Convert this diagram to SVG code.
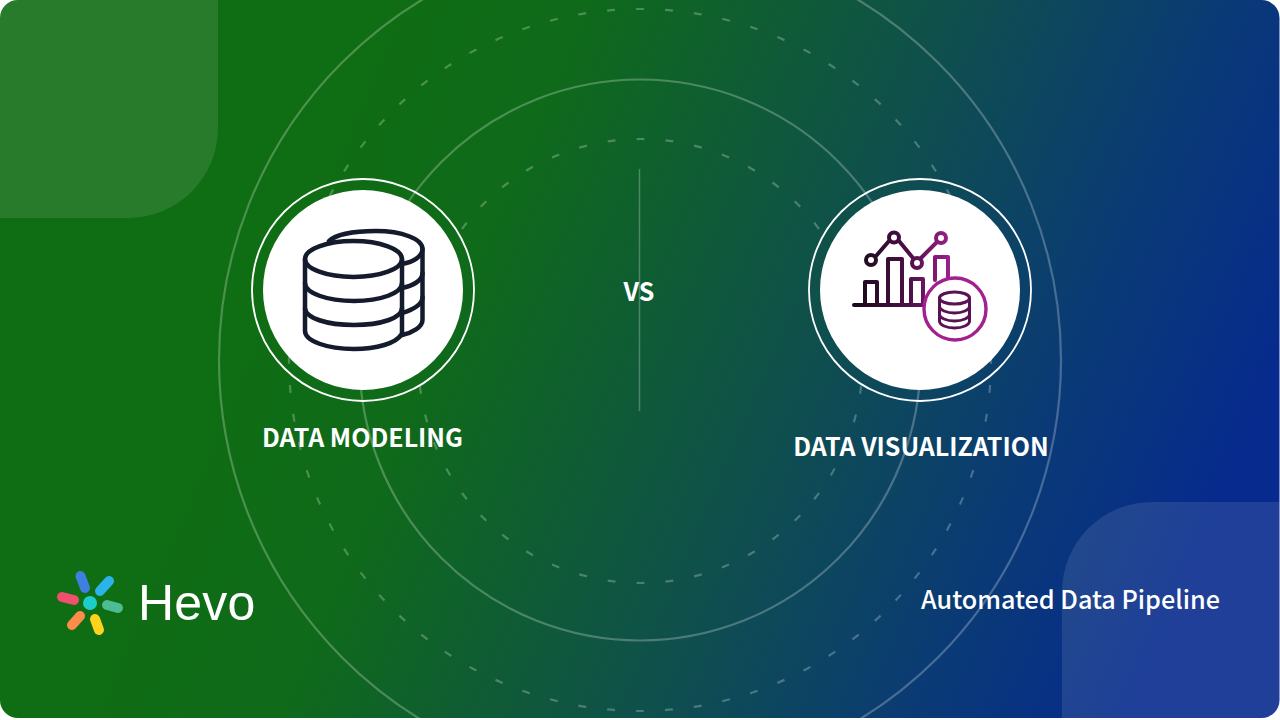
<svg xmlns="http://www.w3.org/2000/svg" width="1280" height="720" viewBox="0 0 1280 720">
<style>
.ring{fill:none;stroke:#fff}
.lbl{font-family:"Noto Sans CJK SC","Noto Sans",sans-serif;fill:#fff}
.big{font-size:25px;font-weight:700;text-anchor:middle}
.db{fill:none;stroke:#141b2d;stroke-width:4.500;stroke-linecap:round;stroke-linejoin:round}
.v{fill:none;stroke:url(#viz);stroke-width:4;stroke-linecap:round;stroke-linejoin:round}
</style>
<defs>
<linearGradient id="bg" gradientUnits="userSpaceOnUse" x1="300" y1="170" x2="1200" y2="560">
<stop offset="0" stop-color="#0f6d13"/><stop offset=".2" stop-color="#0f6a1a"/><stop offset=".55" stop-color="#0f4f4d"/><stop offset=".8" stop-color="#0a3a76"/><stop offset="1" stop-color="#062a8e"/>
</linearGradient>
<linearGradient id="viz" gradientUnits="userSpaceOnUse" x1="860" y1="280" x2="985" y2="280">
<stop offset="0" stop-color="#1c0a1c"/><stop offset=".4" stop-color="#4f1049"/><stop offset=".75" stop-color="#a3218f"/><stop offset="1" stop-color="#a3218f"/>
</linearGradient>
<clipPath id="card"><rect width="1279.500" height="718" rx="18"/></clipPath>
</defs>
<rect width="1280" height="720" fill="#fff"/>
<g clip-path="url(#card)">
<rect width="1280" height="720" fill="url(#bg)"/>
<path d="M0 0H218V128A90 90 0 0 1 128 218H0Z" fill="#fff" opacity=".1"/>
<path d="M1280 502H1152A90 90 0 0 0 1062 592V720H1280Z" fill="#fff" opacity=".1"/>
<g id="rings" opacity=".25">
<circle class="ring" cx="640" cy="360" r="421" stroke-width="2.200"/>
<circle class="ring" cx="640" cy="360" r="351" stroke-width="2.200" pathLength="76" stroke-dasharray=".27 .73" stroke-dashoffset=".135"/>
<circle class="ring" cx="640" cy="360" r="280.500" stroke-width="2.200"/>
<circle class="ring" cx="640.500" cy="361" r="222" stroke-width="2.200" pathLength="48" stroke-dasharray=".27 .73" stroke-dashoffset=".135"/>
<path class="ring" d="M639.500 169V411" stroke-width="1.500"/>
</g>
</g>
<g id="node-modeling">
<circle cx="363" cy="290" r="100" fill="#fff"/>
<circle class="ring" cx="363" cy="290" r="111" stroke-width="1.800"/>
<g class="db">
<ellipse cx="353.500" cy="259" rx="48.500" ry="18"/>
<path d="M305 259V331C305 341 327 349 354 349C377 349 396 343 401 335"/>
<path d="M305 283C305 293 327 301 354 301S402 293 402 283"/>
<path d="M305 308C305 318 327 325 354 325S402 318 402 308"/>
<path d="M402 259V335"/>
<path d="M329 241C335 235 352 231 376 231C402 231 422.500 239 422.500 249C422.500 256 414 262 402 264"/>
<path d="M422.500 249V320C422.500 327 412 333 402 335"/>
<path d="M402 288C412 286 422.500 281 422.500 273"/>
<path d="M402 313C412 310 422.500 305 422.500 297"/>
</g>
</g>
<g id="node-visualization">
<circle cx="920" cy="290" r="100" fill="#fff"/>
<circle class="ring" cx="920" cy="290" r="111" stroke-width="1.800"/>
<g class="v">
<path d="M854 305H925"/>
<path d="M865 304V282H877V304M888 304V259H902V304M911 304V279H923V304M935 280V257H948V278"/>
<path d="M876 256L889 241M899 241L913 258M921 258L936 243"/>
<circle cx="871" cy="260" r="5"/><circle cx="894" cy="237.500" r="5"/><circle cx="917" cy="263" r="5"/><circle cx="941" cy="238" r="5"/>
</g>
<circle cx="955" cy="309" r="31" fill="#fff" stroke="#a3218f" stroke-width="3.400"/>
<g class="v" style="stroke:#5a1254;stroke-width:3">
<ellipse cx="954.500" cy="298" rx="15" ry="6"/>
<path d="M939.500 298V321C939.500 325 946.500 328 954.500 328S969.500 325 969.500 321V298"/>
<path d="M939.500 306C939.500 310 946.500 313 954.500 313S969.500 310 969.500 306M939.500 314C939.500 318 946.500 321 954.500 321S969.500 318 969.500 314"/>
</g>
</g>
<text class="lbl" x="639" y="301" text-anchor="middle" font-size="25" font-weight="700">VS</text>
<text class="lbl big" x="362.500" y="447">DATA MODELING</text>
<text class="lbl big" x="921" y="456">DATA VISUALIZATION</text>
<text class="lbl" x="1070.500" y="609" text-anchor="middle" font-size="25.200" font-weight="500">Automated Data Pipeline</text>
<g id="logo">
<g stroke-width="10" stroke-linecap="round">
<path d="M80.500 576L85 588" stroke="#3f7fe0"/>
<path d="M109 581L100 591" stroke="#2bb3ea"/>
<path d="M62 597L74 600" stroke="#f0506e"/>
<path d="M107 605L118 608" stroke="#4dbb94"/>
<path d="M80 616L72 625" stroke="#fb8c4b"/>
<path d="M95 619L99 630" stroke="#ffd21e"/>
</g>
<circle cx="90" cy="603" r="7" fill="#1fcdc8"/>
<text x="138" y="620" font-family="'Liberation Sans',Arial,sans-serif" font-size="50" letter-spacing=".2" fill="#fff">Hevo</text>
</g>
</svg>
